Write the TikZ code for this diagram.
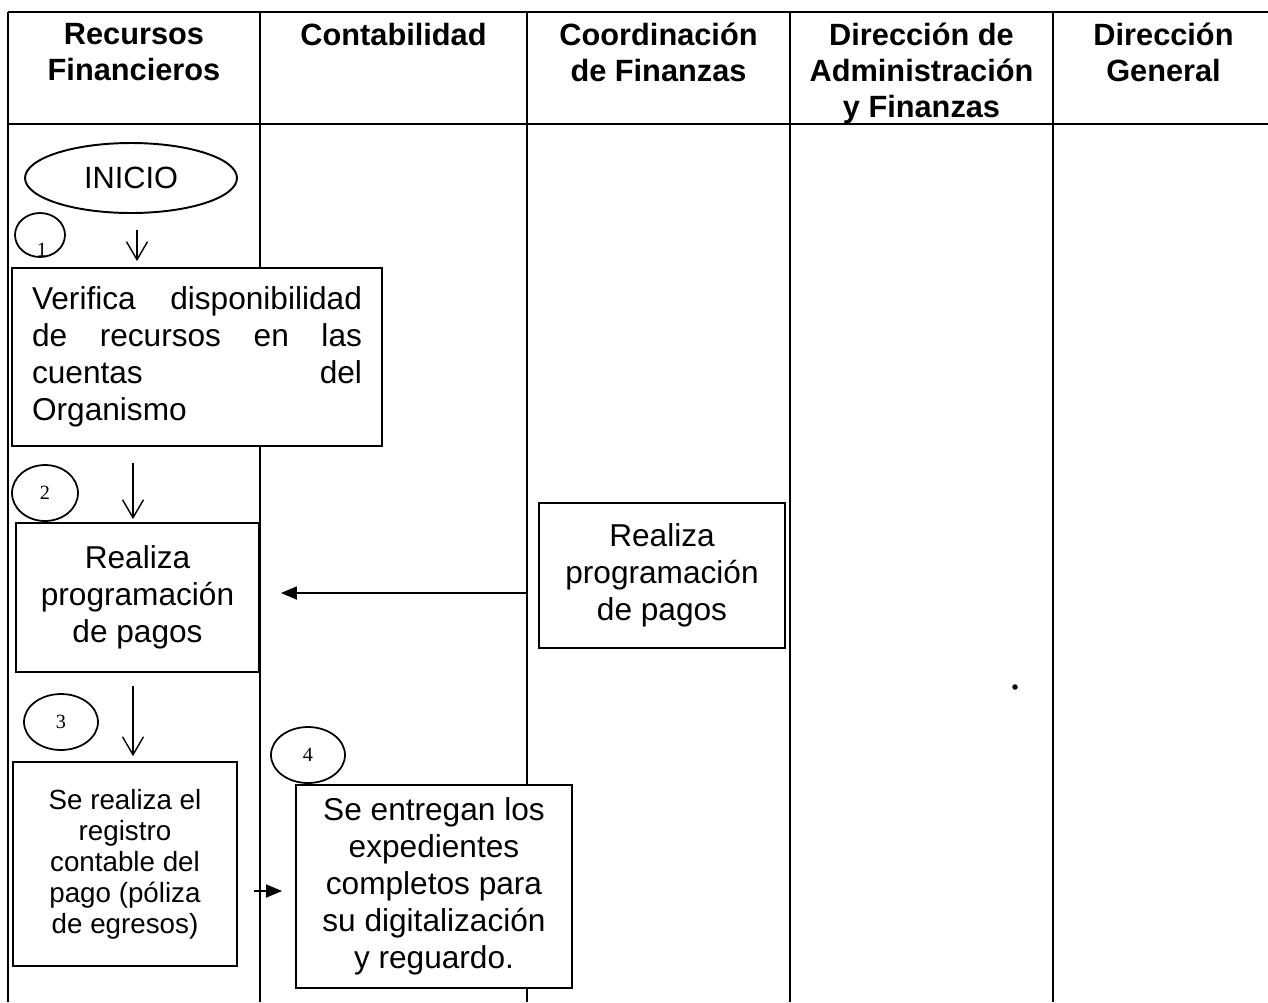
\documentclass[tikz,border=0pt]{standalone}
\usepackage{fontspec}
\setmainfont{Liberation Sans}
\newfontfamily\numfont{Liberation Serif}
\usepackage{tikz}
\usetikzlibrary{calc}
\usetikzlibrary{arrows.meta, shapes}
\hyphenpenalty=10000
\exhyphenpenalty=10000

\begin{document}
\begin{tikzpicture}[x = 0.02cm, y = -0.02cm]

\tikzstyle{lane_line}=[line width = 1.1pt, color = black]
\tikzstyle{lane_head}=[align = center, anchor = north, inner sep = 0, font = \bfseries\fontsize{17.5}{20.5}\selectfont]
\tikzstyle{task_box}=[rectangle, draw, fill = white, line width = 1.1pt, align = center, inner sep = 0, font = \fontsize{18}{21}\selectfont]
\tikzstyle{start_end}=[ellipse, draw, line width = 1.1pt, inner sep = 0, minimum width = 4.24cm, minimum height = 1.4cm, font = \fontsize{17.5}{21}\selectfont]
\tikzstyle{step_mark}=[ellipse, draw, line width = 1pt, inner sep = 0, minimum width = 1.48cm, minimum height = 1.12cm, font = \numfont\fontsize{11.5}{13}\selectfont]
\tikzstyle{flow_down}=[-{Straight Barb[length = 0.36cm, width = 0.42cm]}, line width = 0.8pt, color = black]
\tikzstyle{flow_side}=[-{Triangle[length = 0.32cm, width = 0.26cm]}, line width = 1pt, color = black]

\useasboundingbox (0, 0) rectangle (1268, 1002);

\coordinate (L0) at (8, 12);
\coordinate (L1) at (260, 12);
\coordinate (L2) at (527, 12);
\coordinate (L3) at (790, 12);
\coordinate (L4) at (1053, 12);
\coordinate (R) at (1268, 12);
\coordinate (H) at (0, 124);
\coordinate (B) at (0, 1002);

% lanes
\draw[lane_line] (L0) -- (R);
\draw[lane_line] (L0 |- H) -- (R |- H);
\draw[lane_line] (L0) -- (L0 |- B);
\draw[lane_line] (L1) -- (L1 |- B);
\draw[lane_line] (L2) -- (L2 |- B);
\draw[lane_line] (L3) -- (L3 |- B);
\draw[lane_line] (L4) -- (L4 |- B);

\path
($(L0)!0.5!(L1) + (0, 11)$) node[lane_head](h1) {Recursos\\Financieros}
($(L1)!0.5!(L2) + (0, 11)$) node[lane_head](h2) {Contabilidad}
($(L2)!0.5!(L3) + (0, 11)$) node[lane_head](h3) {Coordinación\\de Finanzas}
($(L3)!0.5!(L4) + (0, 11)$) node[lane_head](h4) {Dirección de\\Administración\\y Finanzas}
($(L4)!0.5!(R) + (3, 11)$) node[lane_head](h5) {Dirección\\General};

\path
(131, 178) node[start_end](inicio) {INICIO}
(40, 235) node[step_mark, minimum width = 1cm, minimum height = 0.88cm](s1) {}
(42, 250) node[font = \numfont\fontsize{11.5}{13}\selectfont, inner sep = 0](n1) {1}
(197, 357) node[task_box, align = left, text width = 6.6cm, minimum width = 7.4cm, minimum height = 3.56cm](verifica) {Verifica \hfill disponibilidad\\de \hfill recursos \hfill en \hfill las\\cuentas \hfill del\\Organismo}
(45, 493) node[step_mark, minimum width = 1.32cm](s2) {2}
(137.5, 597.5) node[task_box, minimum width = 4.86cm, minimum height = 2.98cm](pagos) {Realiza\\programación\\de pagos}
(662, 575.5) node[task_box, minimum width = 4.92cm, minimum height = 2.9cm](progfin) {Realiza\\programación\\de pagos}
(61, 722) node[step_mark](s3) {3}
(125, 864) node[task_box, minimum width = 4.48cm, minimum height = 4.08cm, font = \fontsize{15.8}{17.6}\selectfont](registro) {Se realiza el\\registro\\contable del\\pago (póliza\\de egresos)}
(308, 755) node[step_mark](s4) {4}
(434, 886.5) node[task_box, minimum width = 5.52cm, minimum height = 4.06cm](entrega) {Se entregan los\\expedientes\\completos para\\su digitalización\\y reguardo.}
(1015, 687) node[circle, fill = black, inner sep = 0, minimum size = 0.11cm](dot) {};

\coordinate (a1) at (137, 230);
\coordinate (a2) at (133, 463);
\coordinate (a3) at (133, 686);
\coordinate (a4) at (527, 593);
\coordinate (a5) at (237, 891);

%arrows
\draw[flow_down] (a1) -- ([yshift = 3.4pt]a1 |- verifica.north);
\draw[flow_down] (a2) -- ([yshift = 1.7pt]a2 |- pagos.north);
\draw[flow_down] (a3) -- ([yshift = 2.8pt]a3 |- registro.north);
\draw[flow_side] (a4) -- ([xshift = 0.42cm]a4 -| pagos.east);
\draw[flow_side, shorten <= 0.34cm, shorten >= 0.26cm] (a5) -- (a5 -| entrega.west);

\end{tikzpicture}
\end{document}
